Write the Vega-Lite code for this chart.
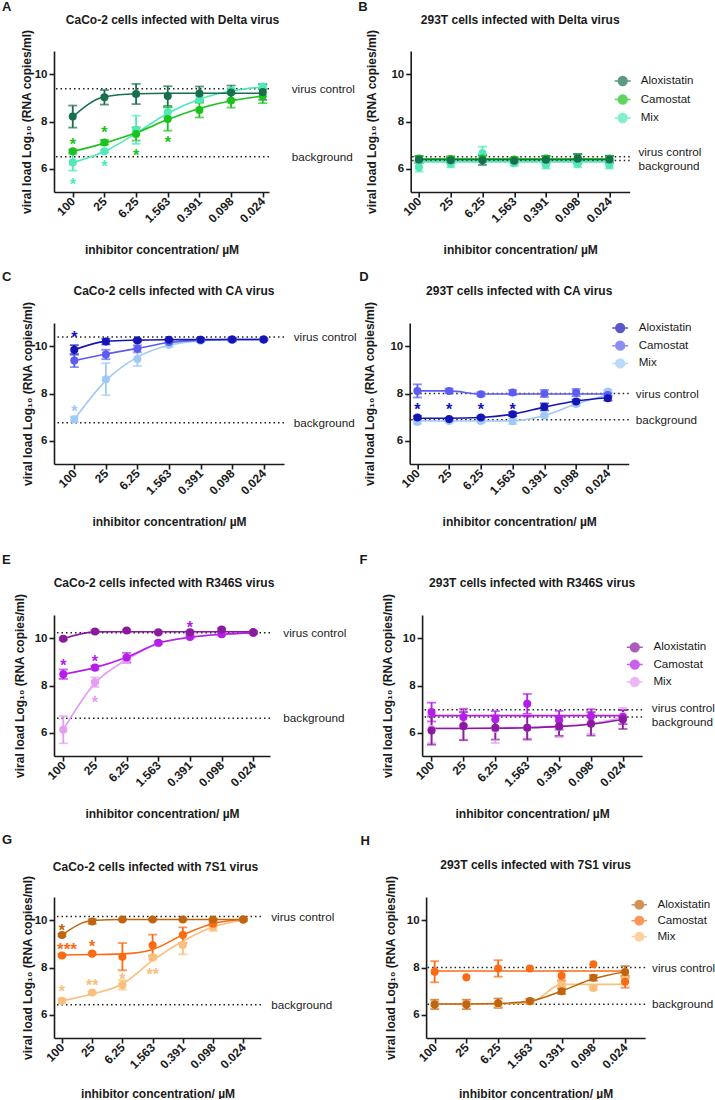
{
"$schema": "https://vega.github.io/schema/vega-lite/v6.json",
"padding": {"left": 1, "top": 1, "right": 0, "bottom": 0},
"background": "white",
"datasets": {
"refs": [
{"panel":"A","kind":"virus control","value":9.39},{"panel":"A","kind":"background","value":6.5},
{"panel":"B","kind":"virus control","value":6.5},{"panel":"B","kind":"background","value":6.34},
{"panel":"C","kind":"virus control","value":10.4},{"panel":"C","kind":"background","value":6.76},
{"panel":"D","kind":"virus control","value":8.0},{"panel":"D","kind":"background","value":6.88},
{"panel":"E","kind":"virus control","value":10.24},{"panel":"E","kind":"background","value":6.61},
{"panel":"F","kind":"virus control","value":6.97},{"panel":"F","kind":"background","value":6.66},
{"panel":"G","kind":"virus control","value":10.17},{"panel":"G","kind":"background","value":6.42},
{"panel":"H","kind":"virus control","value":8.0},{"panel":"H","kind":"background","value":6.44}
],
"stars": [
{"panel":"A","drug":"Camostat","conc":"100","value":7.18,"label":"*"},
{"panel":"A","drug":"Camostat","conc":"25","value":7.68,"label":"*"},
{"panel":"A","drug":"Camostat","conc":"6.25","value":6.69,"label":"*"},
{"panel":"A","drug":"Camostat","conc":"1.563","value":7.25,"label":"*"},
{"panel":"A","drug":"Mix","conc":"100","value":5.48,"label":"*"},
{"panel":"A","drug":"Mix","conc":"25","value":6.22,"label":"*"},
{"panel":"C","drug":"Aloxistatin","conc":"100","value":10.54,"label":"*"},
{"panel":"C","drug":"Mix","conc":"100","value":7.4,"label":"*"},
{"panel":"D","drug":"Aloxistatin","conc":"100","value":7.48,"label":"*"},
{"panel":"D","drug":"Aloxistatin","conc":"25","value":7.48,"label":"*"},
{"panel":"D","drug":"Aloxistatin","conc":"6.25","value":7.48,"label":"*"},
{"panel":"D","drug":"Aloxistatin","conc":"1.563","value":7.48,"label":"*"},
{"panel":"E","drug":"Camostat","conc":"100","value":9.0,"label":"*"},
{"panel":"E","drug":"Camostat","conc":"25","value":9.15,"label":"*"},
{"panel":"E","drug":"Mix","conc":"25","value":7.43,"label":"*"},
{"panel":"E","drug":"Camostat","conc":"0.391","value":10.6,"label":"*"},
{"panel":"G","drug":"Aloxistatin","conc":"100","value":9.71,"label":"*"},
{"panel":"G","drug":"Camostat","conc":"100","value":8.92,"label":"***"},
{"panel":"G","drug":"Camostat","conc":"25","value":9.06,"label":"*"},
{"panel":"G","drug":"Mix","conc":"100","value":7.11,"label":"*"},
{"panel":"G","drug":"Mix","conc":"25","value":7.37,"label":"**"},
{"panel":"G","drug":"Mix","conc":"6.25","value":7.62,"label":"*"},
{"panel":"G","drug":"Mix","conc":"1.563","value":7.83,"label":"**"}
],
"pts": [
{"panel":"A","drug":"Mix","conc":"100","value":6.26,"err":0.35,"fit":6.25},
{"panel":"A","drug":"Mix","conc":"25","value":6.73,"err":0.05,"fit":6.72},
{"panel":"A","drug":"Mix","conc":"6.25","value":7.65,"err":0.6,"fit":7.5},
{"panel":"A","drug":"Mix","conc":"1.563","value":8.39,"err":0.2,"fit":8.35},
{"panel":"A","drug":"Mix","conc":"0.391","value":8.95,"err":0.15,"fit":8.95},
{"panel":"A","drug":"Mix","conc":"0.098","value":9.32,"err":0.1,"fit":9.3},
{"panel":"A","drug":"Mix","conc":"0.024","value":9.49,"err":0.1,"fit":9.47},
{"panel":"A","drug":"Camostat","conc":"100","value":6.73,"err":0.08,"fit":6.72},
{"panel":"A","drug":"Camostat","conc":"25","value":7.11,"err":0.1,"fit":7.08},
{"panel":"A","drug":"Camostat","conc":"6.25","value":7.47,"err":0.28,"fit":7.52},
{"panel":"A","drug":"Camostat","conc":"1.563","value":8.11,"err":0.5,"fit":8.08},
{"panel":"A","drug":"Camostat","conc":"0.391","value":8.49,"err":0.32,"fit":8.55},
{"panel":"A","drug":"Camostat","conc":"0.098","value":8.89,"err":0.3,"fit":8.88},
{"panel":"A","drug":"Camostat","conc":"0.024","value":9.08,"err":0.3,"fit":9.08},
{"panel":"A","drug":"Aloxistatin","conc":"100","value":8.21,"err":0.47,"fit":8.2},
{"panel":"A","drug":"Aloxistatin","conc":"25","value":9.03,"err":0.31,"fit":9.05},
{"panel":"A","drug":"Aloxistatin","conc":"6.25","value":9.17,"err":0.43,"fit":9.18},
{"panel":"A","drug":"Aloxistatin","conc":"1.563","value":9.08,"err":0.42,"fit":9.2},
{"panel":"A","drug":"Aloxistatin","conc":"0.391","value":9.19,"err":0.3,"fit":9.2},
{"panel":"A","drug":"Aloxistatin","conc":"0.098","value":9.23,"err":0.3,"fit":9.2},
{"panel":"A","drug":"Aloxistatin","conc":"0.024","value":9.25,"err":0.33,"fit":9.2},

{"panel":"B","drug":"Mix","conc":"100","value":6.05,"err":0.18,"fit":6.28},
{"panel":"B","drug":"Mix","conc":"25","value":6.2,"err":0.15,"fit":6.28},
{"panel":"B","drug":"Mix","conc":"6.25","value":6.65,"err":0.28,"fit":6.28},
{"panel":"B","drug":"Mix","conc":"1.563","value":6.22,"err":0.1,"fit":6.28},
{"panel":"B","drug":"Mix","conc":"0.391","value":6.15,"err":0.15,"fit":6.28},
{"panel":"B","drug":"Mix","conc":"0.098","value":6.2,"err":0.15,"fit":6.28},
{"panel":"B","drug":"Mix","conc":"0.024","value":6.15,"err":0.15,"fit":6.28},
{"panel":"B","drug":"Camostat","conc":"100","value":6.42,"err":0.1,"fit":6.41},
{"panel":"B","drug":"Camostat","conc":"25","value":6.4,"err":0.12,"fit":6.41},
{"panel":"B","drug":"Camostat","conc":"6.25","value":6.42,"err":0.15,"fit":6.41},
{"panel":"B","drug":"Camostat","conc":"1.563","value":6.38,"err":0.1,"fit":6.41},
{"panel":"B","drug":"Camostat","conc":"0.391","value":6.42,"err":0.12,"fit":6.41},
{"panel":"B","drug":"Camostat","conc":"0.098","value":6.45,"err":0.15,"fit":6.41},
{"panel":"B","drug":"Camostat","conc":"0.024","value":6.42,"err":0.12,"fit":6.41},
{"panel":"B","drug":"Aloxistatin","conc":"100","value":6.38,"err":0.15,"fit":6.37},
{"panel":"B","drug":"Aloxistatin","conc":"25","value":6.35,"err":0.12,"fit":6.37},
{"panel":"B","drug":"Aloxistatin","conc":"6.25","value":6.35,"err":0.2,"fit":6.37},
{"panel":"B","drug":"Aloxistatin","conc":"1.563","value":6.33,"err":0.1,"fit":6.37},
{"panel":"B","drug":"Aloxistatin","conc":"0.391","value":6.37,"err":0.15,"fit":6.37},
{"panel":"B","drug":"Aloxistatin","conc":"0.098","value":6.42,"err":0.2,"fit":6.37},
{"panel":"B","drug":"Aloxistatin","conc":"0.024","value":6.38,"err":0.15,"fit":6.37},

{"panel":"C","drug":"Mix","conc":"100","value":6.9,"err":0.12,"fit":6.9},
{"panel":"C","drug":"Mix","conc":"25","value":8.61,"err":0.68,"fit":8.55},
{"panel":"C","drug":"Mix","conc":"6.25","value":9.47,"err":0.3,"fit":9.55},
{"panel":"C","drug":"Mix","conc":"1.563","value":10.07,"err":0.08,"fit":10.05},
{"panel":"C","drug":"Mix","conc":"0.391","value":10.25,"err":0.05,"fit":10.24},
{"panel":"C","drug":"Mix","conc":"0.098","value":10.29,"err":0.05,"fit":10.29},
{"panel":"C","drug":"Mix","conc":"0.024","value":10.3,"err":0.03,"fit":10.3},
{"panel":"C","drug":"Camostat","conc":"100","value":9.4,"err":0.28,"fit":9.4},
{"panel":"C","drug":"Camostat","conc":"25","value":9.66,"err":0.2,"fit":9.68},
{"panel":"C","drug":"Camostat","conc":"6.25","value":9.9,"err":0.15,"fit":9.92},
{"panel":"C","drug":"Camostat","conc":"1.563","value":10.19,"err":0.05,"fit":10.17},
{"panel":"C","drug":"Camostat","conc":"0.391","value":10.29,"err":0.08,"fit":10.27},
{"panel":"C","drug":"Camostat","conc":"0.098","value":10.3,"err":0.08,"fit":10.3},
{"panel":"C","drug":"Camostat","conc":"0.024","value":10.3,"err":0.05,"fit":10.3},
{"panel":"C","drug":"Aloxistatin","conc":"100","value":9.86,"err":0.2,"fit":9.86},
{"panel":"C","drug":"Aloxistatin","conc":"25","value":10.21,"err":0.12,"fit":10.22},
{"panel":"C","drug":"Aloxistatin","conc":"6.25","value":10.26,"err":0.05,"fit":10.27},
{"panel":"C","drug":"Aloxistatin","conc":"1.563","value":10.29,"err":0.03,"fit":10.29},
{"panel":"C","drug":"Aloxistatin","conc":"0.391","value":10.29,"err":0.05,"fit":10.3},
{"panel":"C","drug":"Aloxistatin","conc":"0.098","value":10.3,"err":0.05,"fit":10.3},
{"panel":"C","drug":"Aloxistatin","conc":"0.024","value":10.3,"err":0.03,"fit":10.3},

{"panel":"D","drug":"Mix","conc":"100","value":6.79,"err":0.08,"fit":6.83},
{"panel":"D","drug":"Mix","conc":"25","value":6.83,"err":0.06,"fit":6.83},
{"panel":"D","drug":"Mix","conc":"6.25","value":6.83,"err":0.08,"fit":6.83},
{"panel":"D","drug":"Mix","conc":"1.563","value":6.82,"err":0.12,"fit":6.83},
{"panel":"D","drug":"Mix","conc":"0.391","value":7.06,"err":0.05,"fit":7.06},
{"panel":"D","drug":"Mix","conc":"0.098","value":7.55,"err":0.08,"fit":7.55},
{"panel":"D","drug":"Mix","conc":"0.024","value":8.08,"err":0.08,"fit":7.95},
{"panel":"D","drug":"Camostat","conc":"100","value":8.11,"err":0.28,"fit":8.11},
{"panel":"D","drug":"Camostat","conc":"25","value":8.11,"err":0.1,"fit":8.11},
{"panel":"D","drug":"Camostat","conc":"6.25","value":7.97,"err":0.08,"fit":7.98},
{"panel":"D","drug":"Camostat","conc":"1.563","value":8.04,"err":0.1,"fit":7.98},
{"panel":"D","drug":"Camostat","conc":"0.391","value":8.0,"err":0.15,"fit":7.98},
{"panel":"D","drug":"Camostat","conc":"0.098","value":8.04,"err":0.15,"fit":7.98},
{"panel":"D","drug":"Camostat","conc":"0.024","value":7.94,"err":0.1,"fit":7.98},
{"panel":"D","drug":"Aloxistatin","conc":"100","value":6.98,"err":0.06,"fit":6.95},
{"panel":"D","drug":"Aloxistatin","conc":"25","value":6.91,"err":0.05,"fit":6.95},
{"panel":"D","drug":"Aloxistatin","conc":"6.25","value":6.98,"err":0.05,"fit":6.98},
{"panel":"D","drug":"Aloxistatin","conc":"1.563","value":7.12,"err":0.08,"fit":7.12},
{"panel":"D","drug":"Aloxistatin","conc":"0.391","value":7.43,"err":0.15,"fit":7.42},
{"panel":"D","drug":"Aloxistatin","conc":"0.098","value":7.66,"err":0.08,"fit":7.68},
{"panel":"D","drug":"Aloxistatin","conc":"0.024","value":7.8,"err":0.1,"fit":7.82},

{"panel":"E","drug":"Mix","conc":"100","value":6.12,"err":0.58,"fit":6.12},
{"panel":"E","drug":"Mix","conc":"25","value":8.14,"err":0.2,"fit":8.1},
{"panel":"E","drug":"Mix","conc":"6.25","value":9.1,"err":0.15,"fit":9.1},
{"panel":"E","drug":"Mix","conc":"1.563","value":9.8,"err":0.05,"fit":9.78},
{"panel":"E","drug":"Mix","conc":"0.391","value":10.05,"err":0.05,"fit":10.05},
{"panel":"E","drug":"Mix","conc":"0.098","value":10.18,"err":0.04,"fit":10.18},
{"panel":"E","drug":"Mix","conc":"0.024","value":10.24,"err":0.04,"fit":10.24},
{"panel":"E","drug":"Camostat","conc":"100","value":8.48,"err":0.2,"fit":8.48},
{"panel":"E","drug":"Camostat","conc":"25","value":8.76,"err":0.08,"fit":8.76},
{"panel":"E","drug":"Camostat","conc":"6.25","value":9.19,"err":0.2,"fit":9.2},
{"panel":"E","drug":"Camostat","conc":"1.563","value":9.82,"err":0.06,"fit":9.8},
{"panel":"E","drug":"Camostat","conc":"0.391","value":10.07,"err":0.05,"fit":10.05},
{"panel":"E","drug":"Camostat","conc":"0.098","value":10.18,"err":0.05,"fit":10.18},
{"panel":"E","drug":"Camostat","conc":"0.024","value":10.24,"err":0.05,"fit":10.24},
{"panel":"E","drug":"Aloxistatin","conc":"100","value":9.99,"err":0.05,"fit":9.99},
{"panel":"E","drug":"Aloxistatin","conc":"25","value":10.3,"err":0.05,"fit":10.28},
{"panel":"E","drug":"Aloxistatin","conc":"6.25","value":10.34,"err":0.04,"fit":10.29},
{"panel":"E","drug":"Aloxistatin","conc":"1.563","value":10.26,"err":0.04,"fit":10.29},
{"panel":"E","drug":"Aloxistatin","conc":"0.391","value":10.26,"err":0.05,"fit":10.29},
{"panel":"E","drug":"Aloxistatin","conc":"0.098","value":10.38,"err":0.05,"fit":10.29},
{"panel":"E","drug":"Aloxistatin","conc":"0.024","value":10.27,"err":0.04,"fit":10.29},

{"panel":"F","drug":"Mix","conc":"100","value":6.15,"err":0.6,"fit":6.18},
{"panel":"F","drug":"Mix","conc":"25","value":6.3,"err":0.6,"fit":6.18},
{"panel":"F","drug":"Mix","conc":"6.25","value":6.15,"err":0.6,"fit":6.2},
{"panel":"F","drug":"Mix","conc":"1.563","value":6.2,"err":0.45,"fit":6.22},
{"panel":"F","drug":"Mix","conc":"0.391","value":6.25,"err":0.45,"fit":6.27},
{"panel":"F","drug":"Mix","conc":"0.098","value":6.4,"err":0.45,"fit":6.37},
{"panel":"F","drug":"Mix","conc":"0.024","value":6.7,"err":0.35,"fit":6.65},
{"panel":"F","drug":"Camostat","conc":"100","value":6.87,"err":0.4,"fit":6.72},
{"panel":"F","drug":"Camostat","conc":"25","value":6.66,"err":0.35,"fit":6.72},
{"panel":"F","drug":"Camostat","conc":"6.25","value":6.56,"err":0.35,"fit":6.72},
{"panel":"F","drug":"Camostat","conc":"1.563","value":7.22,"err":0.42,"fit":6.72},
{"panel":"F","drug":"Camostat","conc":"0.391","value":6.52,"err":0.4,"fit":6.72},
{"panel":"F","drug":"Camostat","conc":"0.098","value":6.69,"err":0.3,"fit":6.72},
{"panel":"F","drug":"Camostat","conc":"0.024","value":6.66,"err":0.3,"fit":6.72},
{"panel":"F","drug":"Aloxistatin","conc":"100","value":6.08,"err":0.6,"fit":6.17},
{"panel":"F","drug":"Aloxistatin","conc":"25","value":6.27,"err":0.6,"fit":6.17},
{"panel":"F","drug":"Aloxistatin","conc":"6.25","value":6.2,"err":0.5,"fit":6.18},
{"panel":"F","drug":"Aloxistatin","conc":"1.563","value":6.2,"err":0.5,"fit":6.2},
{"panel":"F","drug":"Aloxistatin","conc":"0.391","value":6.26,"err":0.4,"fit":6.25},
{"panel":"F","drug":"Aloxistatin","conc":"0.098","value":6.37,"err":0.5,"fit":6.35},
{"panel":"F","drug":"Aloxistatin","conc":"0.024","value":6.55,"err":0.4,"fit":6.55},

{"panel":"G","drug":"Mix","conc":"100","value":6.58,"err":0.1,"fit":6.58},
{"panel":"G","drug":"Mix","conc":"25","value":6.94,"err":0.05,"fit":6.87},
{"panel":"G","drug":"Mix","conc":"6.25","value":7.26,"err":0.2,"fit":7.3},
{"panel":"G","drug":"Mix","conc":"1.563","value":8.43,"err":0.1,"fit":8.3},
{"panel":"G","drug":"Mix","conc":"0.391","value":8.96,"err":0.4,"fit":9.12},
{"panel":"G","drug":"Mix","conc":"0.098","value":9.71,"err":0.15,"fit":9.72},
{"panel":"G","drug":"Mix","conc":"0.024","value":10.04,"err":0.05,"fit":10.02},
{"panel":"G","drug":"Camostat","conc":"100","value":8.51,"err":0.05,"fit":8.53},
{"panel":"G","drug":"Camostat","conc":"25","value":8.59,"err":0.05,"fit":8.55},
{"panel":"G","drug":"Camostat","conc":"6.25","value":8.46,"err":0.58,"fit":8.58},
{"panel":"G","drug":"Camostat","conc":"1.563","value":8.95,"err":0.45,"fit":8.77},
{"panel":"G","drug":"Camostat","conc":"0.391","value":9.38,"err":0.33,"fit":9.38},
{"panel":"G","drug":"Camostat","conc":"0.098","value":9.86,"err":0.1,"fit":9.87},
{"panel":"G","drug":"Camostat","conc":"0.024","value":10.04,"err":0.05,"fit":10.04},
{"panel":"G","drug":"Aloxistatin","conc":"100","value":9.38,"err":0.05,"fit":9.38},
{"panel":"G","drug":"Aloxistatin","conc":"25","value":9.96,"err":0.1,"fit":10.0},
{"panel":"G","drug":"Aloxistatin","conc":"6.25","value":10.04,"err":0.03,"fit":10.04},
{"panel":"G","drug":"Aloxistatin","conc":"1.563","value":10.04,"err":0.03,"fit":10.04},
{"panel":"G","drug":"Aloxistatin","conc":"0.391","value":10.04,"err":0.03,"fit":10.04},
{"panel":"G","drug":"Aloxistatin","conc":"0.098","value":10.04,"err":0.03,"fit":10.04},
{"panel":"G","drug":"Aloxistatin","conc":"0.024","value":10.04,"err":0.03,"fit":10.04},

{"panel":"H","drug":"Mix","conc":"100","value":6.45,"err":0.1,"fit":6.45},
{"panel":"H","drug":"Mix","conc":"25","value":6.45,"err":0.1,"fit":6.45},
{"panel":"H","drug":"Mix","conc":"6.25","value":6.45,"err":0.1,"fit":6.45},
{"panel":"H","drug":"Mix","conc":"1.563","value":6.55,"err":0.1,"fit":6.5},
{"panel":"H","drug":"Mix","conc":"0.391","value":7.28,"err":0.1,"fit":7.28},
{"panel":"H","drug":"Mix","conc":"0.098","value":7.13,"err":0.08,"fit":7.28},
{"panel":"H","drug":"Mix","conc":"0.024","value":7.5,"err":0.15,"fit":7.28},
{"panel":"H","drug":"Camostat","conc":"100","value":7.82,"err":0.45,"fit":7.85},
{"panel":"H","drug":"Camostat","conc":"25","value":7.58,"err":0,"fit":7.85},
{"panel":"H","drug":"Camostat","conc":"6.25","value":7.96,"err":0.35,"fit":7.85},
{"panel":"H","drug":"Camostat","conc":"1.563","value":7.96,"err":0,"fit":7.85},
{"panel":"H","drug":"Camostat","conc":"0.391","value":7.65,"err":0.2,"fit":7.85},
{"panel":"H","drug":"Camostat","conc":"0.098","value":8.14,"err":0,"fit":7.85},
{"panel":"H","drug":"Camostat","conc":"0.024","value":7.39,"err":0.25,"fit":7.85},
{"panel":"H","drug":"Aloxistatin","conc":"100","value":6.43,"err":0.2,"fit":6.45},
{"panel":"H","drug":"Aloxistatin","conc":"25","value":6.43,"err":0.2,"fit":6.45},
{"panel":"H","drug":"Aloxistatin","conc":"6.25","value":6.48,"err":0.2,"fit":6.47},
{"panel":"H","drug":"Aloxistatin","conc":"1.563","value":6.57,"err":0.1,"fit":6.57},
{"panel":"H","drug":"Aloxistatin","conc":"0.391","value":6.99,"err":0.12,"fit":7.0},
{"panel":"H","drug":"Aloxistatin","conc":"0.098","value":7.56,"err":0.12,"fit":7.52},
{"panel":"H","drug":"Aloxistatin","conc":"0.024","value":7.81,"err":0.25,"fit":7.82}
]
},
"spacing": 16,
"resolve": {"scale": {"color": "independent", "x": "independent", "y": "independent"}, "legend": {"color": "independent"}},
"vconcat": [
{"hconcat": [
 {"title": {"text": "A", "anchor": "start", "frame": "bounds", "fontSize": 13, "fontWeight": "bold", "offset": 0, "dx": -18},
  "vconcat": [{
  "width": 215, "height": 141,
  "title": {"text": "CaCo-2 cells infected with Delta virus", "fontSize": 12, "fontWeight": "bold", "offset": 2, "dx": 11},
  "layer": [
   {"data": {"name": "refs"}, "transform": [{"filter": "datum.panel == 'A'"}],
    "mark": {"type": "rule", "strokeDash": [1.5, 3], "strokeWidth": 1.5, "color": "#222"},
    "encoding": {"y": {"field": "value", "type": "quantitative", "scale": {"domain": [5, 11], "nice": false, "zero": false}, "axis": {"values": [6, 8, 10], "titleX": -28, "titleBaseline": "middle"}, "title": "viral load Log₁₀ (RNA copies/ml)"}}},
   {"data": {"name": "pts"}, "transform": [{"filter": "datum.panel == 'A' && datum.err > 0"}],
    "mark": {"type": "errorbar", "ticks": {"size": 9}, "thickness": 1.8},
    "encoding": {"x": {"field": "conc", "type": "ordinal", "scale": {"type": "point", "domain": ["100","25","6.25","1.563","0.391","0.098","0.024"], "padding": 0.395, "align": 0.75}, "axis": {"labelAngle": -45, "labelAlign": "right", "labelBaseline": "middle", "titleY": 57, "titleBaseline": "middle", "encode": {"labels": {"update": {"angle": {"value": -45}, "align": {"value": "right"}, "baseline": {"value": "middle"}}}}}, "title": "inhibitor concentration/ µM"},
     "y": {"field": "value", "type": "quantitative", "title": "viral load Log₁₀ (RNA copies/ml)"}, "yError": {"field": "err"},
     "color": {"field": "drug", "type": "nominal", "scale": {"domain": ["Aloxistatin","Camostat","Mix"], "range": ["#17704c","#1cc21c","#50e8b8"]}, "legend": null}}},
   {"data": {"name": "pts"}, "transform": [{"filter": "datum.panel == 'A'"}],
    "mark": {"type": "line", "interpolate": "monotone", "strokeWidth": 1.6},
    "encoding": {"x": {"field": "conc", "type": "ordinal", "title": "inhibitor concentration/ µM"},
     "y": {"field": "fit", "type": "quantitative", "title": "viral load Log₁₀ (RNA copies/ml)"},
     "color": {"field": "drug", "type": "nominal", "legend": null}}},
   {"data": {"name": "pts"}, "transform": [{"filter": "datum.panel == 'A'"}],
    "mark": {"type": "circle", "size": 65, "opacity": 1},
    "encoding": {"x": {"field": "conc", "type": "ordinal", "title": "inhibitor concentration/ µM"},
     "y": {"field": "value", "type": "quantitative", "title": "viral load Log₁₀ (RNA copies/ml)"},
     "color": {"field": "drug", "type": "nominal", "legend": null}}},
   {"data": {"name": "refs"}, "transform": [{"filter": "datum.panel == 'A'"}],
    "mark": {"type": "text", "align": "left", "baseline": "middle", "dx": 29, "fontSize": 11.7, "color": "#222"},
    "encoding": {"x": {"datum": "0.024", "type": "ordinal"}, "y": {"field": "value", "type": "quantitative", "title": "viral load Log₁₀ (RNA copies/ml)"}, "text": {"field": "kind"}}},
   {"data": {"name": "stars"}, "transform": [{"filter": "datum.panel == 'A'"}],
    "mark": {"type": "text", "fontSize": 16, "fontWeight": "bold", "baseline": "alphabetic", "dy": 9},
    "encoding": {"x": {"field": "conc", "type": "ordinal", "title": "inhibitor concentration/ µM"},
     "y": {"field": "value", "type": "quantitative", "title": "viral load Log₁₀ (RNA copies/ml)"},
     "text": {"field": "label"},
     "color": {"field": "drug", "type": "nominal", "legend": null}}}
  ]}]},
 {"title": {"text": "B", "anchor": "start", "frame": "bounds", "fontSize": 13, "fontWeight": "bold", "offset": 0, "dx": -7.5},
  "vconcat": [{
  "width": 219, "height": 141,
  "title": {"text": "293T cells infected with Delta virus", "fontSize": 12, "fontWeight": "bold", "offset": 2},
  "layer": [
   {"data": {"name": "refs"}, "transform": [{"filter": "datum.panel == 'B'"}],
    "mark": {"type": "rule", "strokeDash": [1.5, 3], "strokeWidth": 1.5, "color": "#222"},
    "encoding": {"y": {"field": "value", "type": "quantitative", "scale": {"domain": [5, 11], "nice": false, "zero": false}, "axis": {"values": [6, 8, 10], "titleX": -39, "titleBaseline": "middle"}, "title": "viral load Log₁₀ (RNA copies/ml)"}}},
   {"data": {"name": "pts"}, "transform": [{"filter": "datum.panel == 'B' && datum.err > 0"}],
    "mark": {"type": "errorbar", "ticks": {"size": 9}, "thickness": 1.8},
    "encoding": {"x": {"field": "conc", "type": "ordinal", "scale": {"type": "point", "domain": ["100","25","6.25","1.563","0.391","0.098","0.024"], "padding": 0.45, "align": 0.29}, "axis": {"labelAngle": -45, "labelAlign": "right", "labelBaseline": "middle", "titleY": 57, "titleBaseline": "middle", "encode": {"labels": {"update": {"angle": {"value": -45}, "align": {"value": "right"}, "baseline": {"value": "middle"}}}}}, "title": "inhibitor concentration/ µM"},
     "y": {"field": "value", "type": "quantitative", "title": "viral load Log₁₀ (RNA copies/ml)"}, "yError": {"field": "err"},
     "color": {"field": "drug", "type": "nominal", "scale": {"domain": ["Aloxistatin","Camostat","Mix"], "range": ["#17704c","#1cc21c","#50e8b8"]}}}},
   {"data": {"name": "pts"}, "transform": [{"filter": "datum.panel == 'B'"}],
    "mark": {"type": "line", "interpolate": "monotone", "strokeWidth": 1.6},
    "encoding": {"x": {"field": "conc", "type": "ordinal", "title": "inhibitor concentration/ µM"},
     "y": {"field": "fit", "type": "quantitative", "title": "viral load Log₁₀ (RNA copies/ml)"},
     "color": {"field": "drug", "type": "nominal"}}},
   {"data": {"name": "pts"}, "transform": [{"filter": "datum.panel == 'B'"}],
    "mark": {"type": "circle", "size": 65, "opacity": 1},
    "encoding": {"x": {"field": "conc", "type": "ordinal", "title": "inhibitor concentration/ µM"},
     "y": {"field": "value", "type": "quantitative", "title": "viral load Log₁₀ (RNA copies/ml)"},
     "color": {"field": "drug", "type": "nominal", "legend": {"title": null, "orient": "none", "legendX": 203, "legendY": 21, "padding": 0, "symbolType": "M-1,0L1,0M-0.55,0A0.55,0.55,0,1,0,0.55,0A0.55,0.55,0,1,0,-0.55,0", "symbolSize": 256, "labelFontSize": 11.6, "labelOffset": 9, "rowPadding": 1.5,
       "encode": {"symbols": {"update": {"stroke": {"signal": "datum.value == 'Aloxistatin' ? '#17704c' : datum.value == 'Camostat' ? '#1cc21c' : '#50e8b8'"}, "fill": {"signal": "datum.value == 'Aloxistatin' ? '#17704c' : datum.value == 'Camostat' ? '#1cc21c' : '#50e8b8'"}, "opacity": {"value": 1}, "strokeWidth": {"value": 2}}}}}}}},
   {"data": {"name": "refs"}, "transform": [{"filter": "datum.panel == 'B' && datum.kind == 'virus control'"}],
    "mark": {"type": "text", "align": "left", "baseline": "middle", "dx": 29, "dy": -4.5, "fontSize": 11.7, "color": "#222"},
    "encoding": {"x": {"datum": "0.024", "type": "ordinal"}, "y": {"field": "value", "type": "quantitative", "title": "viral load Log₁₀ (RNA copies/ml)"}, "text": {"field": "kind"}}},
   {"data": {"name": "refs"}, "transform": [{"filter": "datum.panel == 'B' && datum.kind == 'background'"}],
    "mark": {"type": "text", "align": "left", "baseline": "middle", "dx": 29, "dy": 5.5, "fontSize": 11.7, "color": "#222"},
    "encoding": {"x": {"datum": "0.024", "type": "ordinal"}, "y": {"field": "value", "type": "quantitative", "title": "viral load Log₁₀ (RNA copies/ml)"}, "text": {"field": "kind"}}}
  ]}]}
], "spacing": 2.7, "resolve": {"scale": {"color": "independent", "x": "independent", "y": "independent"}, "legend": {"color": "independent"}}},

{"spacing": 27, "resolve": {"scale": {"color": "independent", "x": "independent", "y": "independent"}, "legend": {"color": "independent"}},
 "vconcat": [
{"hconcat": [
 {"title": {"text": "C", "anchor": "start", "frame": "bounds", "fontSize": 13, "fontWeight": "bold", "offset": 1, "dx": -19},
  "vconcat": [{
  "width": 230, "height": 141,
  "title": {"text": "CaCo-2 cells infected with CA virus", "fontSize": 12, "fontWeight": "bold", "offset": 3, "dx": 5},
  "layer": [
   {"data": {"name": "refs"}, "transform": [{"filter": "datum.panel == 'C'"}],
    "mark": {"type": "rule", "strokeDash": [1.5, 3], "strokeWidth": 1.5, "color": "#222"},
    "encoding": {"y": {"field": "value", "type": "quantitative", "scale": {"domain": [5, 11], "nice": false, "zero": false}, "axis": {"values": [6, 8, 10], "titleX": -27, "titleBaseline": "middle"}, "title": "viral load Log₁₀ (RNA copies/ml)"}}},
   {"data": {"name": "pts"}, "transform": [{"filter": "datum.panel == 'C' && datum.err > 0"}],
    "mark": {"type": "errorbar", "ticks": {"size": 9}, "thickness": 1.8},
    "encoding": {"x": {"field": "conc", "type": "ordinal", "scale": {"type": "point", "domain": ["100","25","6.25","1.563","0.391","0.098","0.024"], "padding": 0.643, "align": 0.5}, "axis": {"labelAngle": -45, "labelAlign": "right", "labelBaseline": "middle", "titleY": 57, "titleBaseline": "middle", "encode": {"labels": {"update": {"angle": {"value": -45}, "align": {"value": "right"}, "baseline": {"value": "middle"}}}}}, "title": "inhibitor concentration/ µM"},
     "y": {"field": "value", "type": "quantitative", "title": "viral load Log₁₀ (RNA copies/ml)"}, "yError": {"field": "err"},
     "color": {"field": "drug", "type": "nominal", "scale": {"domain": ["Aloxistatin","Camostat","Mix"], "range": ["#1515b5","#5c5cf2","#9fcaf5"]}, "legend": null}}},
   {"data": {"name": "pts"}, "transform": [{"filter": "datum.panel == 'C'"}],
    "mark": {"type": "line", "interpolate": "monotone", "strokeWidth": 1.6},
    "encoding": {"x": {"field": "conc", "type": "ordinal", "title": "inhibitor concentration/ µM"},
     "y": {"field": "fit", "type": "quantitative", "title": "viral load Log₁₀ (RNA copies/ml)"},
     "color": {"field": "drug", "type": "nominal", "legend": null}}},
   {"data": {"name": "pts"}, "transform": [{"filter": "datum.panel == 'C'"}],
    "mark": {"type": "circle", "size": 65, "opacity": 1},
    "encoding": {"x": {"field": "conc", "type": "ordinal", "title": "inhibitor concentration/ µM"},
     "y": {"field": "value", "type": "quantitative", "title": "viral load Log₁₀ (RNA copies/ml)"},
     "color": {"field": "drug", "type": "nominal", "legend": null}}},
   {"data": {"name": "refs"}, "transform": [{"filter": "datum.panel == 'C'"}],
    "mark": {"type": "text", "align": "left", "baseline": "middle", "dx": 30, "fontSize": 11.7, "color": "#222"},
    "encoding": {"x": {"datum": "0.024", "type": "ordinal"}, "y": {"field": "value", "type": "quantitative", "title": "viral load Log₁₀ (RNA copies/ml)"}, "text": {"field": "kind"}}},
   {"data": {"name": "stars"}, "transform": [{"filter": "datum.panel == 'C'"}],
    "mark": {"type": "text", "fontSize": 16, "fontWeight": "bold", "baseline": "alphabetic", "dy": 9},
    "encoding": {"x": {"field": "conc", "type": "ordinal", "title": "inhibitor concentration/ µM"},
     "y": {"field": "value", "type": "quantitative", "title": "viral load Log₁₀ (RNA copies/ml)"},
     "text": {"field": "label"},
     "color": {"field": "drug", "type": "nominal", "legend": null}}}
  ]}]},
 {"title": {"text": "D", "anchor": "start", "frame": "bounds", "fontSize": 13, "fontWeight": "bold", "offset": 1, "dx": -4.5},
  "vconcat": [{
  "width": 219, "height": 141,
  "title": {"text": "293T cells infected with CA virus", "fontSize": 12, "fontWeight": "bold", "offset": 3},
  "layer": [
   {"data": {"name": "refs"}, "transform": [{"filter": "datum.panel == 'D'"}],
    "mark": {"type": "rule", "strokeDash": [1.5, 3], "strokeWidth": 1.5, "color": "#222"},
    "encoding": {"y": {"field": "value", "type": "quantitative", "scale": {"domain": [5, 11], "nice": false, "zero": false}, "axis": {"values": [6, 8, 10], "titleX": -40, "titleBaseline": "middle"}, "title": "viral load Log₁₀ (RNA copies/ml)"}}},
   {"data": {"name": "pts"}, "transform": [{"filter": "datum.panel == 'D' && datum.err > 0"}],
    "mark": {"type": "errorbar", "ticks": {"size": 9}, "thickness": 1.8},
    "encoding": {"x": {"field": "conc", "type": "ordinal", "scale": {"type": "point", "domain": ["100","25","6.25","1.563","0.391","0.098","0.024"], "padding": 0.45, "align": 0.27}, "axis": {"labelAngle": -45, "labelAlign": "right", "labelBaseline": "middle", "titleY": 57, "titleBaseline": "middle", "encode": {"labels": {"update": {"angle": {"value": -45}, "align": {"value": "right"}, "baseline": {"value": "middle"}}}}}, "title": "inhibitor concentration/ µM"},
     "y": {"field": "value", "type": "quantitative", "title": "viral load Log₁₀ (RNA copies/ml)"}, "yError": {"field": "err"},
     "color": {"field": "drug", "type": "nominal", "scale": {"domain": ["Aloxistatin","Camostat","Mix"], "range": ["#1515b5","#5c5cf2","#9fcaf5"]}}}},
   {"data": {"name": "pts"}, "transform": [{"filter": "datum.panel == 'D'"}],
    "mark": {"type": "line", "interpolate": "monotone", "strokeWidth": 1.6},
    "encoding": {"x": {"field": "conc", "type": "ordinal", "title": "inhibitor concentration/ µM"},
     "y": {"field": "fit", "type": "quantitative", "title": "viral load Log₁₀ (RNA copies/ml)"},
     "color": {"field": "drug", "type": "nominal"}}},
   {"data": {"name": "pts"}, "transform": [{"filter": "datum.panel == 'D'"}],
    "mark": {"type": "circle", "size": 65, "opacity": 1},
    "encoding": {"x": {"field": "conc", "type": "ordinal", "title": "inhibitor concentration/ µM"},
     "y": {"field": "value", "type": "quantitative", "title": "viral load Log₁₀ (RNA copies/ml)"},
     "color": {"field": "drug", "type": "nominal", "legend": {"title": null, "orient": "none", "legendX": 201.5, "legendY": -4, "padding": 0, "symbolType": "M-1,0L1,0M-0.55,0A0.55,0.55,0,1,0,0.55,0A0.55,0.55,0,1,0,-0.55,0", "symbolSize": 256, "labelFontSize": 11.6, "labelOffset": 9.5, "rowPadding": 0.7,
       "encode": {"symbols": {"update": {"stroke": {"signal": "datum.value == 'Aloxistatin' ? '#1515b5' : datum.value == 'Camostat' ? '#5c5cf2' : '#9fcaf5'"}, "fill": {"signal": "datum.value == 'Aloxistatin' ? '#1515b5' : datum.value == 'Camostat' ? '#5c5cf2' : '#9fcaf5'"}, "opacity": {"value": 1}, "strokeWidth": {"value": 2}}}}}}}},
   {"data": {"name": "refs"}, "transform": [{"filter": "datum.panel == 'D'"}],
    "mark": {"type": "text", "align": "left", "baseline": "middle", "dx": 28, "fontSize": 11.7, "color": "#222"},
    "encoding": {"x": {"datum": "0.024", "type": "ordinal"}, "y": {"field": "value", "type": "quantitative", "title": "viral load Log₁₀ (RNA copies/ml)"}, "text": {"field": "kind"}}},
   {"data": {"name": "stars"}, "transform": [{"filter": "datum.panel == 'D'"}],
    "mark": {"type": "text", "fontSize": 16, "fontWeight": "bold", "baseline": "alphabetic", "dy": 9},
    "encoding": {"x": {"field": "conc", "type": "ordinal", "title": "inhibitor concentration/ µM"},
     "y": {"field": "value", "type": "quantitative", "title": "viral load Log₁₀ (RNA copies/ml)"},
     "text": {"field": "label"},
     "color": {"field": "drug", "type": "nominal"}}}
  ]}]}
], "spacing": 1.7, "resolve": {"scale": {"color": "independent", "x": "independent", "y": "independent"}, "legend": {"color": "independent"}}},

{"spacing": 15, "resolve": {"scale": {"color": "independent", "x": "independent", "y": "independent"}, "legend": {"color": "independent"}},
 "vconcat": [
{"hconcat": [
 {"title": {"text": "E", "anchor": "start", "frame": "bounds", "fontSize": 13, "fontWeight": "bold", "offset": 10, "dx": -11},
  "vconcat": [{
  "width": 216, "height": 141,
  "title": {"text": "CaCo-2 cells infected with R346S virus", "fontSize": 12, "fontWeight": "bold", "offset": 3, "dx": 2},
  "layer": [
   {"data": {"name": "refs"}, "transform": [{"filter": "datum.panel == 'E'"}],
    "mark": {"type": "rule", "strokeDash": [1.5, 3], "strokeWidth": 1.5, "color": "#222"},
    "encoding": {"y": {"field": "value", "type": "quantitative", "scale": {"domain": [5, 11], "nice": false, "zero": false}, "axis": {"values": [6, 8, 10], "titleX": -35, "titleBaseline": "middle"}, "title": "viral load Log₁₀ (RNA copies/ml)"}}},
   {"data": {"name": "pts"}, "transform": [{"filter": "datum.panel == 'E' && datum.err > 0"}],
    "mark": {"type": "errorbar", "ticks": {"size": 9}, "thickness": 1.8},
    "encoding": {"x": {"field": "conc", "type": "ordinal", "scale": {"type": "point", "domain": ["100","25","6.25","1.563","0.391","0.098","0.024"], "padding": 0.41, "align": 0.358}, "axis": {"labelAngle": -45, "labelAlign": "right", "labelBaseline": "middle", "titleY": 57, "titleBaseline": "middle", "encode": {"labels": {"update": {"angle": {"value": -45}, "align": {"value": "right"}, "baseline": {"value": "middle"}}}}}, "title": "inhibitor concentration/ µM"},
     "y": {"field": "value", "type": "quantitative", "title": "viral load Log₁₀ (RNA copies/ml)"}, "yError": {"field": "err"},
     "color": {"field": "drug", "type": "nominal", "scale": {"domain": ["Aloxistatin","Camostat","Mix"], "range": ["#8a1a9e","#b41ee8","#e59cf2"]}, "legend": null}}},
   {"data": {"name": "pts"}, "transform": [{"filter": "datum.panel == 'E'"}],
    "mark": {"type": "line", "interpolate": "monotone", "strokeWidth": 1.6},
    "encoding": {"x": {"field": "conc", "type": "ordinal", "title": "inhibitor concentration/ µM"},
     "y": {"field": "fit", "type": "quantitative", "title": "viral load Log₁₀ (RNA copies/ml)"},
     "color": {"field": "drug", "type": "nominal", "legend": null}}},
   {"data": {"name": "pts"}, "transform": [{"filter": "datum.panel == 'E'"}],
    "mark": {"type": "circle", "size": 65, "opacity": 1},
    "encoding": {"x": {"field": "conc", "type": "ordinal", "title": "inhibitor concentration/ µM"},
     "y": {"field": "value", "type": "quantitative", "title": "viral load Log₁₀ (RNA copies/ml)"},
     "color": {"field": "drug", "type": "nominal", "legend": null}}},
   {"data": {"name": "refs"}, "transform": [{"filter": "datum.panel == 'E'"}],
    "mark": {"type": "text", "align": "left", "baseline": "middle", "dx": 30, "fontSize": 11.7, "color": "#222"},
    "encoding": {"x": {"datum": "0.024", "type": "ordinal"}, "y": {"field": "value", "type": "quantitative", "title": "viral load Log₁₀ (RNA copies/ml)"}, "text": {"field": "kind"}}},
   {"data": {"name": "stars"}, "transform": [{"filter": "datum.panel == 'E'"}],
    "mark": {"type": "text", "fontSize": 16, "fontWeight": "bold", "baseline": "alphabetic", "dy": 9},
    "encoding": {"x": {"field": "conc", "type": "ordinal", "title": "inhibitor concentration/ µM"},
     "y": {"field": "value", "type": "quantitative", "title": "viral load Log₁₀ (RNA copies/ml)"},
     "text": {"field": "label"},
     "color": {"field": "drug", "type": "nominal", "legend": null}}}
  ]}]},
 {"title": {"text": "F", "anchor": "start", "frame": "bounds", "fontSize": 13, "fontWeight": "bold", "offset": 10, "dx": -21.5},
  "vconcat": [{
  "width": 220, "height": 141,
  "title": {"text": "293T cells infected with R346S virus", "fontSize": 12, "fontWeight": "bold", "offset": 3},
  "layer": [
   {"data": {"name": "refs"}, "transform": [{"filter": "datum.panel == 'F'"}],
    "mark": {"type": "rule", "strokeDash": [1.5, 3], "strokeWidth": 1.5, "color": "#222"},
    "encoding": {"y": {"field": "value", "type": "quantitative", "scale": {"domain": [5, 11], "nice": false, "zero": false}, "axis": {"values": [6, 8, 10], "titleX": -35, "titleBaseline": "middle"}, "title": "viral load Log₁₀ (RNA copies/ml)"}}},
   {"data": {"name": "pts"}, "transform": [{"filter": "datum.panel == 'F' && datum.err > 0"}],
    "mark": {"type": "errorbar", "ticks": {"size": 9}, "thickness": 1.8},
    "encoding": {"x": {"field": "conc", "type": "ordinal", "scale": {"type": "point", "domain": ["100","25","6.25","1.563","0.391","0.098","0.024"], "padding": 0.45, "align": 0.33}, "axis": {"labelAngle": -45, "labelAlign": "right", "labelBaseline": "middle", "titleY": 57, "titleBaseline": "middle", "encode": {"labels": {"update": {"angle": {"value": -45}, "align": {"value": "right"}, "baseline": {"value": "middle"}}}}}, "title": "inhibitor concentration/ µM"},
     "y": {"field": "value", "type": "quantitative", "title": "viral load Log₁₀ (RNA copies/ml)"}, "yError": {"field": "err"},
     "color": {"field": "drug", "type": "nominal", "scale": {"domain": ["Aloxistatin","Camostat","Mix"], "range": ["#8a1a9e","#b41ee8","#e59cf2"]}}}},
   {"data": {"name": "pts"}, "transform": [{"filter": "datum.panel == 'F'"}],
    "mark": {"type": "line", "interpolate": "monotone", "strokeWidth": 1.6},
    "encoding": {"x": {"field": "conc", "type": "ordinal", "title": "inhibitor concentration/ µM"},
     "y": {"field": "fit", "type": "quantitative", "title": "viral load Log₁₀ (RNA copies/ml)"},
     "color": {"field": "drug", "type": "nominal"}}},
   {"data": {"name": "pts"}, "transform": [{"filter": "datum.panel == 'F'"}],
    "mark": {"type": "circle", "size": 65, "opacity": 1},
    "encoding": {"x": {"field": "conc", "type": "ordinal", "title": "inhibitor concentration/ µM"},
     "y": {"field": "value", "type": "quantitative", "title": "viral load Log₁₀ (RNA copies/ml)"},
     "color": {"field": "drug", "type": "nominal", "legend": {"title": null, "orient": "none", "legendX": 203.7, "legendY": 23.3, "padding": 0, "symbolType": "M-1,0L1,0M-0.55,0A0.55,0.55,0,1,0,0.55,0A0.55,0.55,0,1,0,-0.55,0", "symbolSize": 256, "labelFontSize": 11.6, "labelOffset": 9.6, "rowPadding": 0.3,
       "encode": {"symbols": {"update": {"stroke": {"signal": "datum.value == 'Aloxistatin' ? '#8a1a9e' : datum.value == 'Camostat' ? '#b41ee8' : '#e59cf2'"}, "fill": {"signal": "datum.value == 'Aloxistatin' ? '#8a1a9e' : datum.value == 'Camostat' ? '#b41ee8' : '#e59cf2'"}, "opacity": {"value": 1}, "strokeWidth": {"value": 2}}}}}}}},
   {"data": {"name": "refs"}, "transform": [{"filter": "datum.panel == 'F' && datum.kind == 'virus control'"}],
    "mark": {"type": "text", "align": "left", "baseline": "middle", "dx": 29, "dy": -1.5, "fontSize": 11.7, "color": "#222"},
    "encoding": {"x": {"datum": "0.024", "type": "ordinal"}, "y": {"field": "value", "type": "quantitative", "title": "viral load Log₁₀ (RNA copies/ml)"}, "text": {"field": "kind"}}},
   {"data": {"name": "refs"}, "transform": [{"filter": "datum.panel == 'F' && datum.kind == 'background'"}],
    "mark": {"type": "text", "align": "left", "baseline": "middle", "dx": 29, "dy": 5, "fontSize": 11.7, "color": "#222"},
    "encoding": {"x": {"datum": "0.024", "type": "ordinal"}, "y": {"field": "value", "type": "quantitative", "title": "viral load Log₁₀ (RNA copies/ml)"}, "text": {"field": "kind"}}}
  ]}]}
], "spacing": 12.1, "resolve": {"scale": {"color": "independent", "x": "independent", "y": "independent"}, "legend": {"color": "independent"}}},

{"hconcat": [
 {"title": {"text": "G", "anchor": "start", "frame": "bounds", "fontSize": 13, "fontWeight": "bold", "offset": 14, "dx": -19},
  "vconcat": [{
  "width": 207, "height": 141,
  "title": {"text": "CaCo-2 cells infected with 7S1 virus", "fontSize": 12, "fontWeight": "bold", "offset": 1, "dx": -2},
  "layer": [
   {"data": {"name": "refs"}, "transform": [{"filter": "datum.panel == 'G'"}],
    "mark": {"type": "rule", "strokeDash": [1.5, 3], "strokeWidth": 1.5, "color": "#222"},
    "encoding": {"y": {"field": "value", "type": "quantitative", "scale": {"domain": [5, 11], "nice": false, "zero": false}, "axis": {"values": [6, 8, 10], "titleX": -27, "titleBaseline": "middle"}, "title": "viral load Log₁₀ (RNA copies/ml)"}}},
   {"data": {"name": "pts"}, "transform": [{"filter": "datum.panel == 'G' && datum.err > 0"}],
    "mark": {"type": "errorbar", "ticks": {"size": 9}, "thickness": 1.8},
    "encoding": {"x": {"field": "conc", "type": "ordinal", "scale": {"type": "point", "domain": ["100","25","6.25","1.563","0.391","0.098","0.024"], "padding": 0.425, "align": 0.31}, "axis": {"labelAngle": -45, "labelAlign": "right", "labelBaseline": "middle", "titleY": 55, "titleBaseline": "middle", "encode": {"labels": {"update": {"angle": {"value": -45}, "align": {"value": "right"}, "baseline": {"value": "middle"}}}}}, "title": "inhibitor concentration/ µM"},
     "y": {"field": "value", "type": "quantitative", "title": "viral load Log₁₀ (RNA copies/ml)"}, "yError": {"field": "err"},
     "color": {"field": "drug", "type": "nominal", "scale": {"domain": ["Aloxistatin","Camostat","Mix"], "range": ["#c0650f","#fb6a14","#f8c07c"]}, "legend": null}}},
   {"data": {"name": "pts"}, "transform": [{"filter": "datum.panel == 'G'"}],
    "mark": {"type": "line", "interpolate": "monotone", "strokeWidth": 1.6},
    "encoding": {"x": {"field": "conc", "type": "ordinal", "title": "inhibitor concentration/ µM"},
     "y": {"field": "fit", "type": "quantitative", "title": "viral load Log₁₀ (RNA copies/ml)"},
     "color": {"field": "drug", "type": "nominal", "legend": null}}},
   {"data": {"name": "pts"}, "transform": [{"filter": "datum.panel == 'G'"}],
    "mark": {"type": "circle", "size": 65, "opacity": 1},
    "encoding": {"x": {"field": "conc", "type": "ordinal", "title": "inhibitor concentration/ µM"},
     "y": {"field": "value", "type": "quantitative", "title": "viral load Log₁₀ (RNA copies/ml)"},
     "color": {"field": "drug", "type": "nominal", "legend": null}}},
   {"data": {"name": "refs"}, "transform": [{"filter": "datum.panel == 'G'"}],
    "mark": {"type": "text", "align": "left", "baseline": "middle", "dx": 28, "fontSize": 11.7, "color": "#222"},
    "encoding": {"x": {"datum": "0.024", "type": "ordinal"}, "y": {"field": "value", "type": "quantitative", "title": "viral load Log₁₀ (RNA copies/ml)"}, "text": {"field": "kind"}}},
   {"data": {"name": "stars"}, "transform": [{"filter": "datum.panel == 'G' && datum.label != '***'"}],
    "mark": {"type": "text", "fontSize": 16, "fontWeight": "bold", "baseline": "alphabetic", "dy": 9},
    "encoding": {"x": {"field": "conc", "type": "ordinal", "title": "inhibitor concentration/ µM"},
     "y": {"field": "value", "type": "quantitative", "title": "viral load Log₁₀ (RNA copies/ml)"},
     "text": {"field": "label"},
     "color": {"field": "drug", "type": "nominal", "legend": null}}},
   {"data": {"name": "stars"}, "transform": [{"filter": "datum.panel == 'G' && datum.label == '***'"}],
    "mark": {"type": "text", "fontSize": 17, "fontWeight": "bold", "baseline": "alphabetic", "dy": 9, "dx": 5},
    "encoding": {"x": {"field": "conc", "type": "ordinal", "title": "inhibitor concentration/ µM"},
     "y": {"field": "value", "type": "quantitative", "title": "viral load Log₁₀ (RNA copies/ml)"},
     "text": {"field": "label"},
     "color": {"field": "drug", "type": "nominal", "legend": null}}}
  ]}]},
 {"title": {"text": "H", "anchor": "start", "frame": "bounds", "fontSize": 13, "fontWeight": "bold", "offset": 11.5, "dx": -23.5},
  "vconcat": [{
  "width": 219, "height": 141,
  "title": {"text": "293T cells infected with 7S1 virus", "fontSize": 12, "fontWeight": "bold", "offset": 3},
  "layer": [
   {"data": {"name": "refs"}, "transform": [{"filter": "datum.panel == 'H'"}],
    "mark": {"type": "rule", "strokeDash": [1.5, 3], "strokeWidth": 1.5, "color": "#222"},
    "encoding": {"y": {"field": "value", "type": "quantitative", "scale": {"domain": [5, 11], "nice": false, "zero": false}, "axis": {"values": [6, 8, 10], "titleX": -36, "titleBaseline": "middle"}, "title": "viral load Log₁₀ (RNA copies/ml)"}}},
   {"data": {"name": "pts"}, "transform": [{"filter": "datum.panel == 'H' && datum.err > 0"}],
    "mark": {"type": "errorbar", "ticks": {"size": 9}, "thickness": 1.8},
    "encoding": {"x": {"field": "conc", "type": "ordinal", "scale": {"type": "point", "domain": ["100","25","6.25","1.563","0.391","0.098","0.024"], "padding": 0.45, "align": 0.3}, "axis": {"labelAngle": -45, "labelAlign": "right", "labelBaseline": "middle", "titleY": 55, "titleBaseline": "middle", "encode": {"labels": {"update": {"angle": {"value": -45}, "align": {"value": "right"}, "baseline": {"value": "middle"}}}}}, "title": "inhibitor concentration/ µM"},
     "y": {"field": "value", "type": "quantitative", "title": "viral load Log₁₀ (RNA copies/ml)"}, "yError": {"field": "err"},
     "color": {"field": "drug", "type": "nominal", "scale": {"domain": ["Aloxistatin","Camostat","Mix"], "range": ["#c0650f","#fb6a14","#f8c07c"]}}}},
   {"data": {"name": "pts"}, "transform": [{"filter": "datum.panel == 'H'"}],
    "mark": {"type": "line", "interpolate": "monotone", "strokeWidth": 1.6},
    "encoding": {"x": {"field": "conc", "type": "ordinal", "title": "inhibitor concentration/ µM"},
     "y": {"field": "fit", "type": "quantitative", "title": "viral load Log₁₀ (RNA copies/ml)"},
     "color": {"field": "drug", "type": "nominal"}}},
   {"data": {"name": "pts"}, "transform": [{"filter": "datum.panel == 'H'"}],
    "mark": {"type": "circle", "size": 65, "opacity": 1},
    "encoding": {"x": {"field": "conc", "type": "ordinal", "title": "inhibitor concentration/ µM"},
     "y": {"field": "value", "type": "quantitative", "title": "viral load Log₁₀ (RNA copies/ml)"},
     "color": {"field": "drug", "type": "nominal", "legend": {"title": null, "orient": "none", "legendX": 204.7, "legendY": -0.7, "padding": 0, "symbolType": "M-1,0L1,0M-0.55,0A0.55,0.55,0,1,0,0.55,0A0.55,0.55,0,1,0,-0.55,0", "symbolSize": 240, "labelFontSize": 11.6, "labelOffset": 9.6, "rowPadding": 0,
       "encode": {"symbols": {"update": {"stroke": {"signal": "datum.value == 'Aloxistatin' ? '#c0650f' : datum.value == 'Camostat' ? '#fb6a14' : '#f8c07c'"}, "fill": {"signal": "datum.value == 'Aloxistatin' ? '#c0650f' : datum.value == 'Camostat' ? '#fb6a14' : '#f8c07c'"}, "opacity": {"value": 1}, "strokeWidth": {"value": 2}}}}}}}},
   {"data": {"name": "refs"}, "transform": [{"filter": "datum.panel == 'H'"}],
    "mark": {"type": "text", "align": "left", "baseline": "middle", "dx": 27, "fontSize": 11.7, "color": "#222"},
    "encoding": {"x": {"datum": "0.024", "type": "ordinal"}, "y": {"field": "value", "type": "quantitative", "title": "viral load Log₁₀ (RNA copies/ml)"}, "text": {"field": "kind"}}}
  ]}]}
], "spacing": 25.1, "resolve": {"scale": {"color": "independent", "x": "independent", "y": "independent"}, "legend": {"color": "independent"}}}
 ]}
 ]}
],
"config": {
 "font": "Liberation Sans",
 "view": {"stroke": null},
 "axis": {"grid": false, "domainColor": "#1a1a1a", "domainWidth": 1.6, "tickColor": "#1a1a1a", "tickWidth": 1.6, "tickSize": 5, "labelFont": "Liberation Sans", "labelFontSize": 11.5, "labelFontWeight": "bold", "labelColor": "#1a1a1a", "titleFont": "Liberation Sans", "titleFontSize": 12, "titleFontWeight": "bold", "titleColor": "#1a1a1a", "labelPadding": 2},
 "axisX": {"labelAngle": -45, "labelFontSize": 12},
 "title": {"color": "#1a1a1a", "font": "Liberation Sans"},
 "text": {"font": "Liberation Sans"},
 "legend": {"labelFont": "Liberation Sans", "labelColor": "#1a1a1a"}
}
}
